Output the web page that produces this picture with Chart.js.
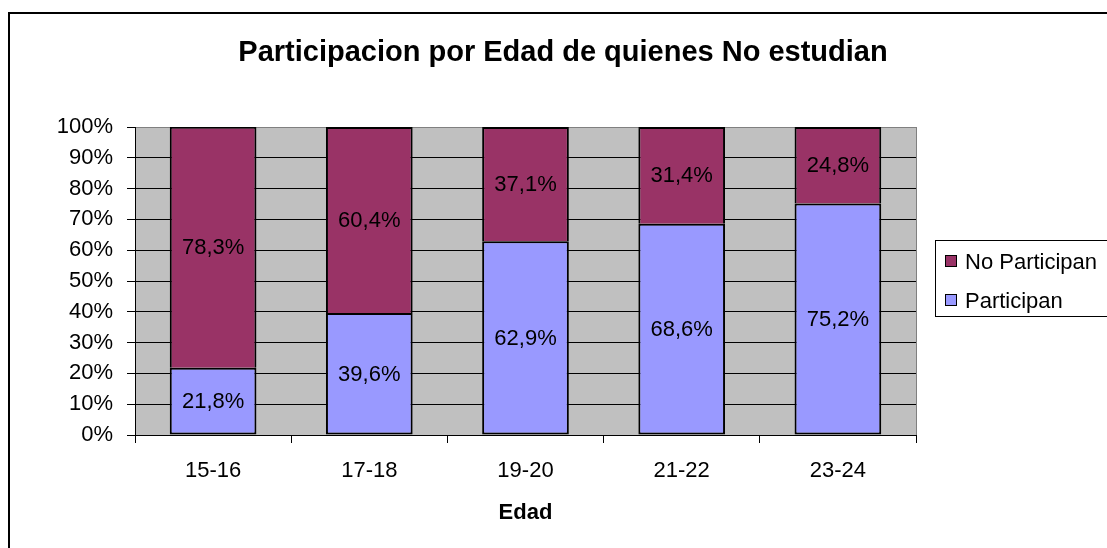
<!DOCTYPE html>
<html>
<head>
<meta charset="utf-8">
<script src="https://cdn.jsdelivr.net/npm/chart.js@4.4.0/dist/chart.umd.min.js"></script>
<style>
html,body{margin:0;padding:0;background:#fff;}
canvas{display:block;}
</style>
</head>
<body>
<canvas id="c" width="1107" height="548"></canvas>
<script>
const categories = ['15-16', '17-18', '19-20', '21-22', '23-24'];
const participan = [21.8, 39.6, 62.9, 68.6, 75.2];
const noParticipan = [78.3, 60.4, 37.1, 31.4, 24.8];
const yTicks = [0, 10, 20, 30, 40, 50, 60, 70, 80, 90, 100];
const chartTitle = 'Participacion por Edad de quienes No estudian';
const xTitle = 'Edad';

const FONT = "'Liberation Sans', Arial, Helvetica, sans-serif";
Chart.defaults.font.family = FONT;
Chart.defaults.color = '#000';

const fmt = v => v.toFixed(1).replace('.', ',') + '%';

const decorPlugin = {
  id: 'decor',
  beforeDraw(chart) {
    const {ctx, chartArea: a} = chart;
    ctx.save();
    ctx.fillStyle = '#fff';
    ctx.fillRect(0, 0, chart.width, chart.height);
    ctx.strokeStyle = '#000';
    ctx.lineWidth = 2;
    ctx.strokeRect(9, 13, 1300, 700);
    ctx.fillStyle = '#C0C0C0';
    ctx.fillRect(a.left, a.top, a.right - a.left, a.bottom - a.top);
    ctx.restore();
  },
  beforeDatasetsDraw(chart) {
    const {ctx, chartArea: a} = chart;
    ctx.save();
    ctx.strokeStyle = '#808080';
    ctx.lineWidth = 1;
    ctx.beginPath();
    ctx.moveTo(Math.round(a.right) + 0.5, a.top);
    ctx.lineTo(Math.round(a.right) + 0.5, a.bottom);
    ctx.stroke();
    ctx.restore();
  },
  afterDraw(chart) {
    const {ctx} = chart;
    ctx.save();
    ctx.fillStyle = '#000';
    ctx.font = 'bold 29px ' + FONT;
    ctx.textAlign = 'center';
    ctx.textBaseline = 'middle';
    ctx.fillText(chartTitle, 563, 53);
    ctx.font = '22px ' + FONT;
    chart.data.datasets.forEach((ds, di) => {
      const meta = chart.getDatasetMeta(di);
      meta.data.forEach((el, i) => {
        const top = Math.max(el.y, chart.chartArea.top);
        const cy = (top + el.base) / 2;
        ctx.fillText(fmt(ds.data[i]), el.x, cy + 1);
      });
    });
    ctx.strokeStyle = '#000';
    ctx.lineWidth = 1;
    ctx.fillStyle = '#fff';
    ctx.fillRect(935.5, 240.5, 300, 76);
    ctx.strokeRect(935.5, 240.5, 300, 76);
    const items = chart.data.datasets.slice().reverse();
    ctx.textAlign = 'left';
    items.forEach((ds, k) => {
      const sy = 255.5 + k * 39;
      ctx.fillStyle = ds.backgroundColor;
      ctx.fillRect(945.5, sy, 11, 11);
      ctx.strokeRect(945.5, sy, 11, 11);
      ctx.fillStyle = '#000';
      ctx.fillText(ds.label, 965, sy + 7);
    });
    ctx.restore();
  }
};

new Chart(document.getElementById('c'), {
  type: 'bar',
  data: {
    labels: categories,
    datasets: [
      {label: 'Participan', data: participan, backgroundColor: '#9999FF', borderColor: '#000', borderWidth: 2, borderSkipped: false},
      {label: 'No Participan', data: noParticipan, backgroundColor: '#993366', borderColor: '#000', borderWidth: 2, borderSkipped: 'start'}
    ]
  },
  options: {
    responsive: false,
    animation: false,
    layout: {padding: {top: 127, left: 35, right: 191, bottom: 22}},
    datasets: {bar: {barPercentage: 0.555, categoryPercentage: 1}},
    plugins: {legend: {display: false}, title: {display: false}, tooltip: {enabled: false}},
    scales: {
      x: {
        stacked: true,
        afterFit(s) { s.height = 91; },
        grid: {offset: true, drawOnChartArea: false, drawTicks: true, tickLength: 8, color: '#000', tickColor: '#000'},
        border: {display: true, color: '#000', width: 1},
        ticks: {font: {size: 22}, padding: 15, color: '#000', maxRotation: 0},
        title: {display: true, text: xTitle, font: {size: 22, weight: 'bold'}, padding: {top: 0, bottom: 0}, color: '#000'}
      },
      y: {
        stacked: true,
        min: 0, max: 100,
        afterFit(s) { s.width = 100; },
        afterBuildTicks(s) { s.ticks = yTicks.map(v => ({value: v})); },
        grid: {color: c => (c.tick && c.tick.value === 100 ? '#808080' : '#000'), tickColor: '#000', tickLength: 8, lineWidth: 1},
        border: {display: true, color: '#000', width: 1},
        ticks: {font: {size: 22}, padding: 14, color: '#000', callback: v => v + '%'}
      }
    }
  },
  plugins: [decorPlugin]
});
</script>
</body>
</html>
